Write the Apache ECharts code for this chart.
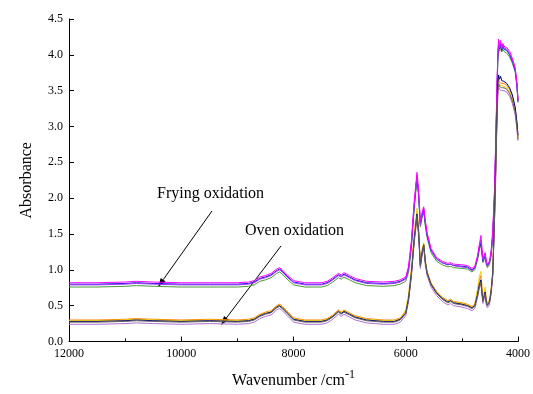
<!DOCTYPE html>
<html>
<head>
<meta charset="utf-8">
<script src="https://cdn.jsdelivr.net/npm/echarts@6/dist/echarts.min.js"></script>
<style>
  html, body { margin: 0; padding: 0; background: #fff; }
  #chart { width: 533px; height: 394px; }
</style>
</head>
<body>
<div id="chart"></div>
<script>
// 波数 (cm-1)
const wavenumbers = [
  12000, 11500, 11000, 10800, 10500, 10000, 9500, 9000, 8800, 8700,
  8600, 8500, 8400, 8300, 8250, 8200, 8100, 8000, 7800, 7500,
  7400, 7300, 7200, 7150, 7100, 7000, 6900, 6700, 6400, 6200,
  6100, 6000, 5950, 5900, 5850, 5800, 5770, 5740, 5710, 5680,
  5650, 5620, 5550, 5450, 5350, 5250, 5200, 5150, 5000, 4900,
  4820, 4770, 4720, 4690, 4660, 4640, 4625, 4605, 4585, 4565,
  4545, 4510, 4480, 4450, 4420, 4400, 4380, 4360, 4345, 4330,
  4310, 4290, 4270, 4250, 4200, 4150, 4100, 4050, 4020, 4000
];

// Frying oxidation spectra
const fryingMagenta = [
  0.82, 0.82, 0.83, 0.84, 0.83, 0.82, 0.82, 0.82, 0.83, 0.85,
  0.90, 0.92, 0.95, 1.01, 1.03, 1.00, 0.92, 0.85, 0.82, 0.82,
  0.84, 0.89, 0.95, 0.93, 0.96, 0.92, 0.88, 0.84, 0.83, 0.84,
  0.86, 0.90, 1.05, 1.40, 1.95, 2.36, 2.10, 1.68, 1.80, 1.88,
  1.68, 1.52, 1.30, 1.17, 1.12, 1.09, 1.10, 1.08, 1.07, 1.06,
  1.02, 1.05, 1.20, 1.35, 1.48, 1.28, 1.16, 1.20, 1.24, 1.12,
  1.08, 1.12, 1.25, 1.55, 2.10, 2.70, 3.40, 4.00, 4.22, 4.12,
  4.20, 4.10, 4.16, 4.12, 4.10, 4.05, 3.95, 3.82, 3.62, 3.38
];
const fryingBlue = [
  0.80, 0.80, 0.81, 0.82, 0.81, 0.80, 0.80, 0.80, 0.81, 0.83,
  0.88, 0.90, 0.93, 0.99, 1.01, 0.98, 0.90, 0.83, 0.80, 0.80,
  0.82, 0.87, 0.93, 0.91, 0.94, 0.90, 0.86, 0.82, 0.81, 0.82,
  0.84, 0.88, 1.02, 1.36, 1.90, 2.30, 2.05, 1.64, 1.76, 1.84,
  1.64, 1.48, 1.27, 1.15, 1.10, 1.07, 1.08, 1.06, 1.05, 1.04,
  1.00, 1.03, 1.17, 1.30, 1.38, 1.22, 1.12, 1.16, 1.20, 1.10,
  1.06, 1.10, 1.22, 1.50, 2.00, 2.60, 3.30, 3.95, 4.15, 4.08,
  4.14, 4.06, 4.12, 4.08, 4.06, 4.00, 3.91, 3.78, 3.58, 3.35
];
const fryingPurple = [
  0.79, 0.79, 0.80, 0.81, 0.80, 0.79, 0.79, 0.79, 0.80, 0.82,
  0.87, 0.89, 0.92, 0.98, 1.00, 0.97, 0.89, 0.82, 0.79, 0.79,
  0.81, 0.86, 0.92, 0.90, 0.93, 0.89, 0.85, 0.81, 0.80, 0.81,
  0.83, 0.87, 1.00, 1.34, 1.88, 2.32, 2.06, 1.62, 1.77, 1.86,
  1.66, 1.50, 1.28, 1.15, 1.10, 1.07, 1.08, 1.06, 1.04, 1.03,
  0.99, 1.02, 1.18, 1.32, 1.42, 1.24, 1.13, 1.18, 1.22, 1.10,
  1.05, 1.09, 1.21, 1.48, 2.05, 2.65, 3.35, 3.98, 4.18, 4.10,
  4.16, 4.08, 4.14, 4.10, 4.08, 4.02, 3.93, 3.80, 3.60, 3.36
];
const fryingGreen = [
  0.76, 0.76, 0.77, 0.78, 0.77, 0.76, 0.76, 0.76, 0.77, 0.79,
  0.84, 0.86, 0.89, 0.95, 0.97, 0.94, 0.86, 0.79, 0.76, 0.76,
  0.78, 0.83, 0.89, 0.87, 0.90, 0.86, 0.82, 0.78, 0.77, 0.78,
  0.80, 0.84, 0.97, 1.30, 1.84, 2.26, 2.00, 1.60, 1.72, 1.80,
  1.60, 1.45, 1.24, 1.12, 1.07, 1.04, 1.05, 1.03, 1.02, 1.01,
  0.97, 1.00, 1.14, 1.27, 1.35, 1.20, 1.10, 1.14, 1.17, 1.07,
  1.03, 1.07, 1.19, 1.45, 1.95, 2.55, 3.25, 3.90, 4.10, 4.05,
  4.10, 4.04, 4.08, 4.05, 4.02, 3.97, 3.88, 3.76, 3.56, 3.33
];

// Oven oxidation spectra
const ovenOrange = [
  0.30, 0.30, 0.31, 0.32, 0.31, 0.30, 0.31, 0.30, 0.31, 0.33,
  0.38, 0.41, 0.43, 0.50, 0.52, 0.49, 0.41, 0.33, 0.30, 0.30,
  0.32, 0.37, 0.44, 0.41, 0.44, 0.40, 0.36, 0.32, 0.30, 0.30,
  0.33, 0.42, 0.62, 0.98, 1.45, 1.80, 1.55, 1.08, 1.25, 1.36,
  1.12, 0.98, 0.82, 0.70, 0.62, 0.57, 0.59, 0.56, 0.54, 0.52,
  0.49, 0.52, 0.70, 0.85, 0.92, 0.72, 0.60, 0.66, 0.72, 0.58,
  0.54, 0.58, 0.72, 0.98, 1.70, 2.30, 3.00, 3.55, 3.66, 3.62,
  3.64, 3.60, 3.62, 3.60, 3.57, 3.52, 3.42, 3.25, 3.05, 2.86
];
const ovenYellow = [
  0.29, 0.29, 0.30, 0.31, 0.30, 0.29, 0.30, 0.29, 0.30, 0.32,
  0.37, 0.40, 0.42, 0.49, 0.51, 0.48, 0.40, 0.32, 0.29, 0.29,
  0.31, 0.36, 0.43, 0.40, 0.43, 0.39, 0.35, 0.31, 0.29, 0.29,
  0.32, 0.44, 0.66, 1.02, 1.50, 1.86, 1.58, 1.10, 1.28, 1.38,
  1.13, 0.98, 0.81, 0.69, 0.61, 0.56, 0.58, 0.55, 0.53, 0.51,
  0.48, 0.52, 0.74, 0.90, 0.98, 0.74, 0.60, 0.68, 0.76, 0.58,
  0.53, 0.57, 0.71, 0.96, 1.68, 2.28, 2.98, 3.52, 3.62, 3.58,
  3.60, 3.57, 3.58, 3.56, 3.54, 3.48, 3.38, 3.22, 3.02, 2.84
];
const ovenNavy = [
  0.28, 0.28, 0.29, 0.30, 0.29, 0.28, 0.29, 0.28, 0.29, 0.31,
  0.36, 0.39, 0.41, 0.48, 0.50, 0.47, 0.39, 0.31, 0.28, 0.28,
  0.30, 0.35, 0.42, 0.39, 0.42, 0.38, 0.34, 0.30, 0.28, 0.28,
  0.31, 0.40, 0.60, 0.95, 1.42, 1.78, 1.52, 1.06, 1.24, 1.35,
  1.10, 0.96, 0.80, 0.68, 0.60, 0.55, 0.57, 0.54, 0.52, 0.50,
  0.47, 0.50, 0.66, 0.79, 0.86, 0.68, 0.57, 0.63, 0.69, 0.55,
  0.51, 0.55, 0.69, 0.95, 1.72, 2.35, 3.05, 3.60, 3.72, 3.66,
  3.70, 3.64, 3.66, 3.63, 3.60, 3.54, 3.44, 3.27, 3.07, 2.88
];
const ovenViolet = [
  0.24, 0.24, 0.25, 0.26, 0.25, 0.24, 0.25, 0.24, 0.25, 0.27,
  0.32, 0.35, 0.37, 0.44, 0.46, 0.43, 0.35, 0.27, 0.24, 0.24,
  0.26, 0.31, 0.38, 0.35, 0.38, 0.34, 0.30, 0.26, 0.24, 0.24,
  0.27, 0.36, 0.56, 0.90, 1.36, 1.72, 1.46, 1.02, 1.19, 1.31,
  1.06, 0.92, 0.76, 0.64, 0.56, 0.51, 0.53, 0.50, 0.48, 0.46,
  0.43, 0.46, 0.62, 0.74, 0.80, 0.63, 0.53, 0.59, 0.64, 0.51,
  0.47, 0.51, 0.65, 0.90, 1.62, 2.22, 2.90, 3.44, 3.56, 3.52,
  3.54, 3.50, 3.52, 3.50, 3.48, 3.42, 3.32, 3.16, 2.96, 2.80
];
const ovenGray = [
  0.27, 0.27, 0.28, 0.29, 0.28, 0.27, 0.28, 0.27, 0.28, 0.30,
  0.35, 0.38, 0.40, 0.47, 0.49, 0.46, 0.38, 0.30, 0.27, 0.27,
  0.29, 0.34, 0.41, 0.38, 0.41, 0.37, 0.33, 0.29, 0.27, 0.27,
  0.30, 0.39, 0.58, 0.93, 1.40, 1.76, 1.50, 1.05, 1.22, 1.34,
  1.09, 0.95, 0.79, 0.67, 0.59, 0.54, 0.56, 0.53, 0.51, 0.49,
  0.46, 0.49, 0.64, 0.76, 0.82, 0.66, 0.56, 0.62, 0.67, 0.54,
  0.50, 0.54, 0.68, 0.93, 1.66, 2.26, 2.95, 3.48, 3.60, 3.56,
  3.58, 3.54, 3.56, 3.54, 3.52, 3.46, 3.36, 3.20, 3.00, 2.82
];

const xTicks = [12000, 10000, 8000, 6000, 4000];
const yTicks = [0.0, 0.5, 1.0, 1.5, 2.0, 2.5, 3.0, 3.5, 4.0, 4.5];

const spectra = [
  { name: "frying-green", data: fryingGreen, color: "#4c9a3a" },
  { name: "frying-blue", data: fryingBlue, color: "#1010e0" },
  { name: "frying-purple", data: fryingPurple, color: "#9933ff" },
  { name: "frying-magenta", data: fryingMagenta, color: "#ff00ff" },
  { name: "oven-violet", data: ovenViolet, color: "#b070d0" },
  { name: "oven-orange", data: ovenOrange, color: "#ff8000" },
  { name: "oven-yellow", data: ovenYellow, color: "#f0d000" },
  { name: "oven-navy", data: ovenNavy, color: "#000080" },
  { name: "oven-gray", data: ovenGray, color: "#606060" }
];

const serif = "'Liberation Serif', 'Times New Roman', serif";

// 箭头: 直线 + 三角形箭头
function arrow(x1, y1, x2, y2) {
  const dx = x2 - x1, dy = y2 - y1;
  const len = Math.sqrt(dx * dx + dy * dy);
  const ux = dx / len, uy = dy / len;
  const bx = x2 - ux * 9, by = y2 - uy * 9;
  return [
    { type: "line", shape: { x1: x1, y1: y1, x2: bx, y2: by }, style: { stroke: "#000", lineWidth: 1 } },
    {
      type: "polygon",
      shape: { points: [[x2, y2], [bx + uy * 3, by - ux * 3], [bx - uy * 3, by + ux * 3]] },
      style: { fill: "#000" }
    }
  ];
}

const chart = echarts.init(document.getElementById("chart"));

const option = {
  animation: false,
  backgroundColor: "#fff",
  grid: { left: 69, right: 13, top: 19, bottom: 45 },
  xAxis: {
    type: "value",
    min: 4000,
    max: 12000,
    interval: 2000,
    inverse: true,
    name: "Wavenumber /cm{sup|-1}",
    nameLocation: "middle",
    nameGap: 27,
    nameTextStyle: {
      fontFamily: serif, fontSize: 16, color: "#000",
      rich: { sup: { fontFamily: serif, fontSize: 12, color: "#000", padding: [0, 0, 13, 0] } }
    },
    axisLine: { lineStyle: { color: "#000", width: 1 } },
    axisTick: { inside: true, length: 5, lineStyle: { color: "#000" } },
    minorTick: { show: true, splitNumber: 2, length: 3, lineStyle: { color: "#000" } },
    splitLine: { show: false },
    axisLabel: {
      fontFamily: serif, fontSize: 12, color: "#000", margin: 6,
      formatter: v => (xTicks.includes(v) ? String(v) : "")
    }
  },
  yAxis: {
    type: "value",
    min: 0,
    max: 4.5,
    interval: 0.5,
    name: "Absorbance",
    nameLocation: "middle",
    nameGap: 34,
    nameTextStyle: { fontFamily: serif, fontSize: 16, color: "#000" },
    axisLine: { show: true, lineStyle: { color: "#000", width: 1 } },
    axisTick: { show: true, inside: true, length: 5, lineStyle: { color: "#000" } },
    splitLine: { show: false },
    axisLabel: {
      fontFamily: serif, fontSize: 12, color: "#000", margin: 6,
      formatter: v => yTicks.find(t => Math.abs(t - v) < 1e-6).toFixed(1)
    }
  },
  series: spectra.map(s => ({
    name: s.name,
    type: "line",
    showSymbol: false,
    data: wavenumbers.map((w, i) => [w, s.data[i]]),
    lineStyle: { color: s.color, width: 1 },
    itemStyle: { color: s.color },
    z: 2
  })),
  graphic: [
    {
      type: "text", left: 157, top: 186,
      style: { text: "Frying oxidation", font: "16px " + serif, fill: "#000" }
    },
    {
      type: "text", left: 245, top: 223,
      style: { text: "Oven oxidation", font: "16px " + serif, fill: "#000" }
    },
    ...arrow(212, 211, 158, 287),
    ...arrow(281, 246, 221, 325)
  ]
};

chart.setOption(option);
</script>
</body>
</html>
